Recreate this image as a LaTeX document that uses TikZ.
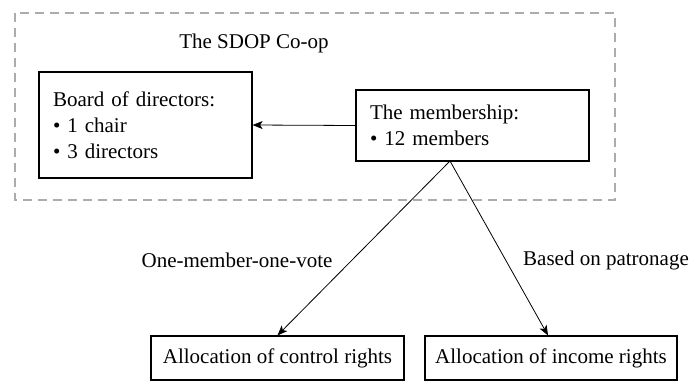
\documentclass[tikz,border=0pt]{standalone}
\usepackage{fontspec}
\setmainfont{Liberation Serif}
\usetikzlibrary{arrows.meta,positioning}

\begin{document}
\begin{tikzpicture}[x=1pt,y=-1pt,
    font=\fontsize{21}{26}\selectfont,
    box/.style={draw,line width=1.2pt,inner sep=0pt},
    listbox/.style={box,align=left},
    rightsbox/.style={box,minimum height=44pt},
    link/.style={-{Stealth[length=10pt,width=8pt,inset=2.5pt]},line width=0.8pt}]
  \useasboundingbox (0,0) rectangle (691,381);

  % the co-op boundary
  \draw[gray!65,line width=1.9pt,dash pattern=on 9pt off 6pt] (15,13) rectangle (615,200);
  \node (coop) at (254,43) {The SDOP Co-op};

  \node[listbox,minimum width=213pt,minimum height=106pt,text width=185pt] (board) at (145.5,125)
    {Board of directors:\\\textbullet\ 1 chair\\\textbullet\ 3 directors};
  \node[listbox,minimum width=233pt,minimum height=71pt,text width=205pt] (members) at (472.5,125.5)
    {The membership:\\\textbullet\ 12 members};

  \node[rightsbox,minimum width=253pt] (control) at (277.5,358) {Allocation of control rights};
  \node[rightsbox,minimum width=252pt] (income) at (551,358) {Allocation of income rights};

  \coordinate (apex) at (450,161);
  \draw[link] (members.west) -- (board.east);
  \draw[link] (apex) -- (control.north);
  \draw[link] (apex) -- ([xshift=-3pt]income.north);

  \node (vote) at (237,260) {One-member-one-vote};
  \node (patron) at (606,260) {Based on patronage};
\end{tikzpicture}
\end{document}
